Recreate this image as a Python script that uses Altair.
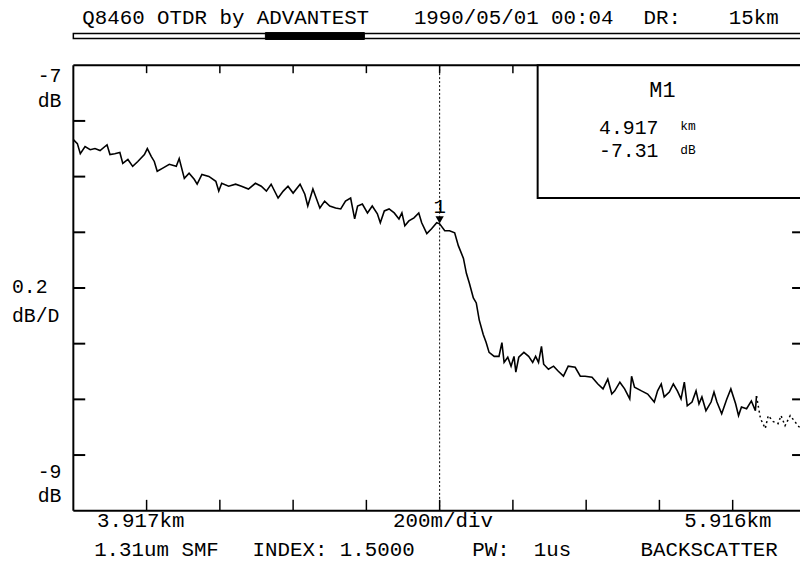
import altair as alt
import pandas as pd

# ---- data ----
trace_km = [3.917, 3.928, 3.936, 3.949, 3.963, 3.976, 3.990, 4.009, 4.017, 4.030,
            4.044, 4.052, 4.066, 4.079, 4.093, 4.111, 4.119, 4.130, 4.138, 4.146,
            4.160, 4.179, 4.198, 4.206, 4.220, 4.233, 4.247, 4.255, 4.268, 4.287,
            4.306, 4.314, 4.322, 4.341, 4.360, 4.376, 4.395, 4.414, 4.430, 4.444,
            4.457, 4.476, 4.490, 4.503, 4.517, 4.536, 4.549, 4.557, 4.571, 4.590,
            4.603, 4.617, 4.633, 4.647, 4.660, 4.674, 4.685, 4.693, 4.706, 4.720,
            4.733, 4.747, 4.755, 4.766, 4.779, 4.793, 4.806, 4.814, 4.822, 4.833,
            4.847, 4.860, 4.868, 4.882, 4.895, 4.909, 4.917, 4.931, 4.944, 4.958,
            4.968, 4.982, 4.990, 4.998, 5.009, 5.017, 5.025, 5.036, 5.044, 5.052,
            5.066, 5.079, 5.087, 5.093, 5.103, 5.112, 5.120, 5.125, 5.133, 5.147,
            5.160, 5.171, 5.179, 5.187, 5.195, 5.201, 5.214, 5.228, 5.241, 5.255,
            5.268, 5.287, 5.301, 5.314, 5.333, 5.349, 5.363, 5.376, 5.387,
            5.395, 5.409, 5.422, 5.436, 5.441, 5.449, 5.468, 5.485, 5.503, 5.512,
            5.522, 5.530, 5.544, 5.555, 5.566, 5.576, 5.585, 5.593, 5.606, 5.617,
            5.625, 5.633, 5.644, 5.658, 5.666, 5.674, 5.687, 5.701, 5.712, 5.725,
            5.733, 5.741, 5.755, 5.768, 5.779, 5.782, 5.793, 5.806, 5.814, 5.828,
            5.841, 5.849, 5.860, 5.874, 5.887, 5.895, 5.903]
trace_db = [-7.334, -7.352, -7.397, -7.365, -7.379, -7.374, -7.383, -7.357, -7.401, -7.397,
            -7.392, -7.441, -7.423, -7.454, -7.432, -7.401, -7.374, -7.410, -7.432, -7.476,
            -7.463, -7.445, -7.454, -7.419, -7.508, -7.485, -7.512, -7.534, -7.490, -7.499,
            -7.521, -7.565, -7.530, -7.543, -7.534, -7.543, -7.556, -7.530, -7.543, -7.565,
            -7.534, -7.596, -7.565, -7.543, -7.574, -7.534, -7.579, -7.632, -7.556, -7.641,
            -7.610, -7.632, -7.641, -7.645, -7.610, -7.596, -7.690, -7.632, -7.623, -7.663,
            -7.632, -7.667, -7.707, -7.654, -7.645, -7.663, -7.690, -7.663, -7.721, -7.699,
            -7.685, -7.663, -7.707, -7.756, -7.734, -7.707, -7.712, -7.743, -7.743, -7.752,
            -7.810, -7.867, -7.934, -7.978, -8.045, -8.067, -8.143, -8.209, -8.245, -8.289,
            -8.307, -8.307, -8.245, -8.334, -8.311, -8.351, -8.307, -8.378, -8.311, -8.289,
            -8.307, -8.334, -8.307, -8.334, -8.262, -8.342, -8.365, -8.351, -8.374, -8.396,
            -8.351, -8.356, -8.396, -8.396, -8.401, -8.431, -8.453, -8.409, -8.476,
            -8.462, -8.423, -8.453, -8.498, -8.396, -8.445, -8.462, -8.476, -8.512, -8.462,
            -8.431, -8.489, -8.467, -8.431, -8.462, -8.498, -8.423, -8.529, -8.512, -8.462,
            -8.520, -8.489, -8.551, -8.512, -8.467, -8.512, -8.565, -8.498, -8.453, -8.520,
            -8.573, -8.534, -8.542, -8.507, -8.551, -8.485, -8.587, -8.631, -8.573, -8.600,
            -8.609, -8.573, -8.618, -8.573, -8.600, -8.618, -8.631]
tail_start_km = 5.782          # beyond this the trace is drawn dotted
m1_km = 4.917                  # marker 1 position
div_km = [4.117, 4.317, 4.517, 4.717, 4.917, 5.117, 5.317, 5.517, 5.717]
div_db = [-7.25, -7.5, -7.75, -8.0, -8.25, -8.5, -8.75]
right_div_db = [-7.75, -8.0, -8.25, -8.5, -8.75]

title_texts = ["Q8460 OTDR by ADVANTEST", "1990/05/01 00:04", "DR:", "15km"]
left_texts = ["-7", "dB", "0.2", "dB/D", "-9", "dB"]
bottom_texts = ["3.917km", "200m/div", "5.916km"]
footer_texts = ["1.31um SMF", "INDEX: 1.5000", "PW:", "1us", "BACKSCATTER"]
marker_texts = ["M1", "4.917", "km", "-7.31", "dB"]

W, H = 734, 450
FONT = "Liberation Mono"

df = pd.DataFrame({"km": trace_km, "db": trace_db})
main = df[df.km <= tail_start_km]
tail = df[df.km >= tail_start_km]

xs = alt.Scale(domain=[3.917, 3.917 + W / 370.0], nice=False, zero=False)
ys = alt.Scale(domain=[-9, -7], nice=False, zero=False)
X = alt.X("km:Q", scale=xs, axis=None)
Y = alt.Y("db:Q", scale=ys, axis=None)

one = pd.DataFrame({"a": [0]})

layers = []

# frame
layers.append(alt.Chart(one).mark_rule(color="black", strokeWidth=2).encode(
    x=alt.value(0), x2=alt.value(W), y=alt.value(0)))
layers.append(alt.Chart(one).mark_rule(color="black", strokeWidth=2).encode(
    x=alt.value(0), x2=alt.value(W), y=alt.value(H)))
layers.append(alt.Chart(one).mark_rule(color="black", strokeWidth=2).encode(
    x=alt.value(0), y=alt.value(0), y2=alt.value(H)))

# division ticks
xt = pd.DataFrame({"km": div_km})
yt = pd.DataFrame({"db": div_db})
yr = pd.DataFrame({"db": right_div_db})
layers.append(alt.Chart(xt).mark_rule(color="black", strokeWidth=1.5).encode(
    x=X, y=alt.value(0), y2=alt.value(8)))
layers.append(alt.Chart(xt).mark_rule(color="black", strokeWidth=1.5).encode(
    x=X, y=alt.value(H - 11), y2=alt.value(H)))
layers.append(alt.Chart(yt).mark_rule(color="black", strokeWidth=2).encode(
    y=Y, x=alt.value(0), x2=alt.value(12)))
layers.append(alt.Chart(yr).mark_rule(color="black", strokeWidth=2).encode(
    y=Y, x=alt.value(W - 8), x2=alt.value(W)))

# marker box (covers the ticks beneath it)
layers.append(alt.Chart(one).mark_rect(fill="white", stroke="black", strokeWidth=2).encode(
    x=alt.value(469), x2=alt.value(W + 6), y=alt.value(0), y2=alt.value(134)))

# top scale bar
layers.append(alt.Chart(one).mark_rect(fill="white", stroke="black", strokeWidth=1.5).encode(
    x=alt.value(0), x2=alt.value(W + 4), y=alt.value(-32), y2=alt.value(-27)))
layers.append(alt.Chart(one).mark_rect(fill="black", stroke="black", strokeWidth=1).encode(
    x=alt.value(194), x2=alt.value(294), y=alt.value(-33), y2=alt.value(-26)))

# marker line
mk = pd.DataFrame({"km": [m1_km]})
layers.append(alt.Chart(mk).mark_rule(color="black", strokeWidth=1, strokeDash=[2, 2]).encode(x=X))

# trace
layers.append(alt.Chart(main).mark_line(color="black", strokeWidth=1.6).encode(x=X, y=Y))
layers.append(alt.Chart(tail).mark_line(color="black", strokeWidth=1.5, strokeDash=[2, 3]).encode(x=X, y=Y))

# marker symbol on the trace
mpt = df[df.km == m1_km]
layers.append(alt.Chart(mpt).mark_point(shape="triangle-down", filled=True, color="black",
                                        size=70, yOffset=-4, opacity=1).encode(x=X, y=Y))
layers.append(alt.Chart(mpt).mark_text(text="1", font=FONT, fontSize=21, color="black",
                                       baseline="alphabetic", dy=-11).encode(x=X, y=Y))


def label(txt, x, y, size=21, align="left"):
    return alt.Chart(pd.DataFrame({"t": [txt]})).mark_text(
        font=FONT, fontSize=size, color="black", align=align, baseline="alphabetic"
    ).encode(x=alt.value(x), y=alt.value(y), text="t:N")


for txt, x in zip(title_texts, [9, 344, 576, 662]):
    layers.append(label(txt, x, -42))
for txt, x, y, al in zip(left_texts, [-12, -12, -62, -62, -12, -12],
                         [17, 42, 230, 259, 417, 441],
                         ["right", "right", "left", "left", "right", "right"]):
    layers.append(label(txt, x, y, size=20, align=al))
for txt, x in zip(bottom_texts, [24, 323, 617]):
    layers.append(label(txt, x, 466))
for txt, x in zip(footer_texts, [21, 181, 403, 465, 573]):
    layers.append(label(txt, x, 496))
for txt, x, y, s, al in zip(marker_texts, [595, 531, 613, 531, 613], [32, 69, 65, 93, 90],
                            [22, 20, 13, 20, 13], ["center", "left", "left", "left", "left"]):
    layers.append(label(txt, x, y, size=s, align=al))

chart = alt.layer(*layers).properties(
    width=W, height=H,
    autosize=alt.AutoSizeParams(type="none"),
    padding={"left": 66, "top": 55, "right": 0, "bottom": 52},
).configure_view(stroke=None)

chart.save("out.html", embed_options={"renderer": "svg", "actions": False})
